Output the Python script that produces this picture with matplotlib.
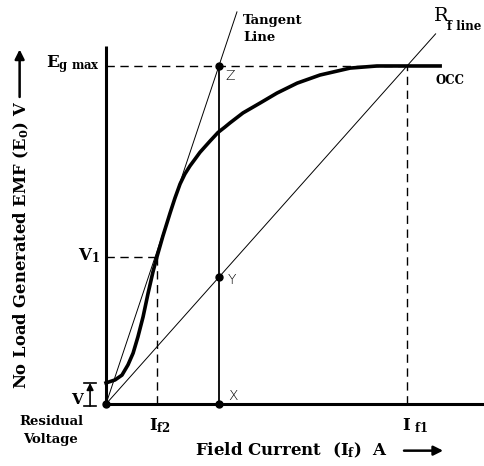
import numpy as np
import matplotlib.pyplot as plt

plt.rcParams['font.family'] = 'DejaVu Serif'
plt.rcParams['mathtext.fontset'] = 'custom'
plt.rcParams['mathtext.rm'] = 'DejaVu Serif:bold'
plt.rcParams['mathtext.it'] = 'DejaVu Serif:bold'
plt.rcParams['mathtext.bf'] = 'DejaVu Serif:bold'
plt.rcParams['mathtext.default'] = 'rm'

# open circuit characteristic (field current vs generated emf)
If = [0.00, 0.30, 0.53, 0.73, 0.90, 1.06, 1.23, 1.40, 1.56, 1.69, 1.89, 2.13,
      2.29, 2.46, 2.62, 2.79, 2.96, 3.12, 3.29, 3.46, 3.72, 3.95, 4.12, 4.55,
      5.12, 5.68, 6.35, 7.11, 8.11, 9.00, 10.00, 11.10]
E0 = [0.70, 0.80, 0.96, 1.30, 1.69, 2.23, 2.89, 3.69, 4.39, 4.88, 5.58, 6.35,
      6.84, 7.31, 7.64, 7.91, 8.14, 8.36, 8.55, 8.74, 9.02, 9.20, 9.34, 9.67,
      10.00, 10.33, 10.66, 10.93, 11.16, 11.23, 11.23, 11.23]

Eg_max = 11.23
If1 = 10.0
If2 = 1.69
V1 = 4.88
Vres = 0.70
Ix = 3.75          # current at X, Y, Z
Rf_slope = Eg_max / If1
tan_slope = Eg_max / Ix

fig = plt.figure(figsize=(4.85, 4.66), dpi=100)
ax = fig.add_axes([0, 0, 1, 1])
ax.set_xlim(-3.522, 12.591)
ax.set_ylim(-2.060, 13.422)
ax.axis('off')

# axes
ax.plot([0, 0], [0, 11.89], color='black', lw=2.2, solid_capstyle='butt')
ax.plot([0, 12.6], [0, 0], color='black', lw=2.2, solid_capstyle='butt')

# dashed guides
ax.plot([0, If1], [Eg_max, Eg_max], color='black', lw=1, dashes=(6, 4))
ax.plot([If1, If1], [0, Eg_max], color='black', lw=1, dashes=(6, 4))
ax.plot([0, If2], [V1, V1], color='black', lw=1, dashes=(6, 4))
ax.plot([If2, If2], [0, V1], color='black', lw=1, dashes=(6, 4))

# XZ line
ax.plot([Ix, Ix], [0, Eg_max], color='black', lw=1.3)

# field resistance line and tangent line
xr = np.array([0, 10.95])
ax.plot(xr, Rf_slope * xr, color='black', lw=0.7)
xt = np.array([0, 4.35])
ax.plot(xt, tan_slope * xt, color='black', lw=0.7)

# OCC
ax.plot(If, E0, color='black', lw=2.6, solid_joinstyle='round')

# points
ax.plot([0, Ix, Ix, Ix], [0, 0, Ix * Rf_slope, Eg_max], 'o', color='black', ms=5)

# point labels
ax.text(Ix + 0.2, Eg_max - 0.33, 'Z', fontsize=10, family='DejaVu Sans',
        fontweight='light', va='center', ha='left')
ax.text(Ix + 0.28, Ix * Rf_slope - 0.1, 'Y', fontsize=10, family='DejaVu Sans',
        fontweight='light', va='center', ha='left')
ax.text(Ix + 0.3, 0.27, 'X', fontsize=10, family='DejaVu Sans',
        fontweight='light', va='center', ha='left')

# y tick-like labels
ax.text(-0.2, Eg_max + 0.05, r'$E_{g\ max}$', fontsize=12, ha='right', va='center')
ax.text(-0.2, V1 + 0.05, r'$V_1$', fontsize=12, ha='right', va='center')

# residual voltage marker
xm = -0.53
ax.plot([xm - 0.2, xm + 0.2], [Vres, Vres], color='black', lw=1.2)
ax.plot([xm - 0.2, xm + 0.2], [-0.07, -0.07], color='black', lw=1.2)
ax.annotate('', xy=(xm, Vres), xytext=(xm, -0.07),
            arrowprops=dict(arrowstyle='-|>', color='black', lw=1.2,
                            mutation_scale=10, shrinkA=0, shrinkB=0))
ax.text(xm - 0.25, 0.12, 'V', fontsize=11, fontweight='bold', ha='right', va='center')
ax.text(-1.83, -0.58, 'Residual', fontsize=9.5, fontweight='bold', ha='center', va='center')
ax.text(-1.83, -1.17, 'Voltage', fontsize=9.5, fontweight='bold', ha='center', va='center')

# x tick-like labels
ax.text(If2 - 0.25, -0.72, r'$I_{f2}$', fontsize=12, ha='left', va='center')
ax.text(If1 - 0.15, -0.72, r'$I_{\ f1}$', fontsize=12, ha='left', va='center')

# axis titles
ax.text(2.95, -1.53, r'Field Current  (I$_f$)  A', fontsize=12, fontweight='bold',
        ha='left', va='center')
ax.annotate('', xy=(11.2, -1.55), xytext=(9.9, -1.55),
            arrowprops=dict(arrowstyle='-|>', color='black', lw=1.8,
                            mutation_scale=14, shrinkA=0, shrinkB=0))
ax.text(-2.82, 5.28, r'No Load Generated EMF (E$_0$) V', fontsize=11.8,
        fontweight='bold', rotation=90, ha='center', va='center')
ax.annotate('', xy=(-2.87, 11.78), xytext=(-2.87, 10.2),
            arrowprops=dict(arrowstyle='-|>', color='black', lw=1.8,
                            mutation_scale=14, shrinkA=0, shrinkB=0))

# curve labels
ax.text(4.55, 12.75, 'Tangent', fontsize=9.5, fontweight='bold', ha='left', va='center')
ax.text(4.55, 12.18, 'Line', fontsize=9.5, fontweight='bold', ha='left', va='center')
ax.text(10.95, 10.75, 'OCC', fontsize=8.5, fontweight='bold', ha='left', va='center')
ax.text(10.9, 12.9, 'R', fontsize=14, ha='left', va='center')
ax.text(11.33, 12.55, 'f line', fontsize=8.5, fontweight='bold', ha='left', va='center')

fig.savefig('out.png', dpi=100)
